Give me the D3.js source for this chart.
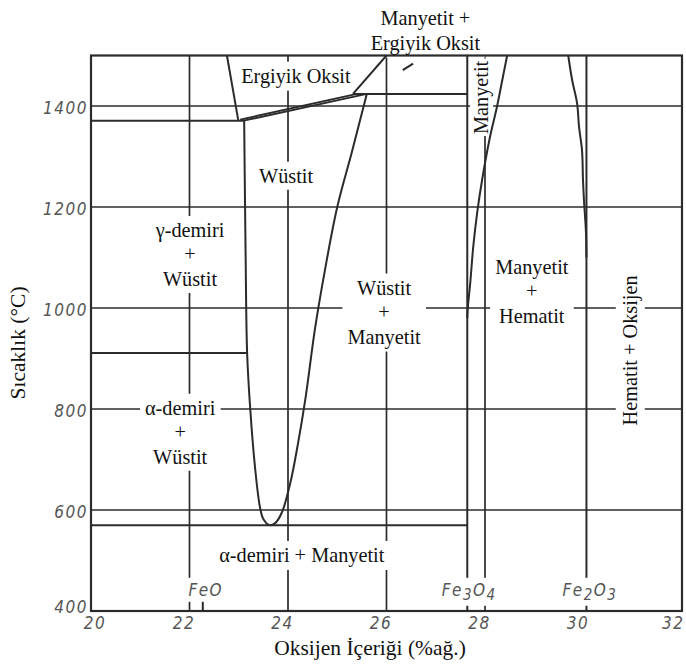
<!DOCTYPE html>
<html>
<head>
<meta charset="utf-8">
<script src="https://cdn.jsdelivr.net/npm/d3@7"></script>
<style>
  html, body { margin: 0; padding: 0; background: #fff; }
  svg { display: block; }
  .lbl { font-family: "Liberation Serif", "Times New Roman", serif; font-size: 20.3px; fill: #111; }
  .title { font-family: "Liberation Serif", "Times New Roman", serif; font-size: 21.5px; fill: #111; }
  .tick text, .cmp { font-family: "Liberation Sans Narrow", "DejaVu Sans Condensed", sans-serif;
         font-style: italic; font-size: 17px; fill: #555; letter-spacing: 1.5px; }
</style>
</head>
<body>
<svg id="chart" width="686" height="666"></svg>
<script>
// Fe–O phase diagram: oxygen content (wt%) vs temperature (°C)

const xTicks = [20, 22, 24, 26, 28, 30, 32];
const yTicks = [400, 600, 800, 1000, 1200, 1400];
const gridX = [22, 24, 26, 28];
const gridY = [600, 800, 1000, 1200, 1400];

// horizontal invariant lines: [wt% from, wt% to, °C]
const isotherms = [
  [20, 23.11, 1371],
  [25.32, 27.64, 1424],
  [20, 23.17, 911],
  [20, 27.64, 570]
];

// stoichiometric compositions drawn full height (Fe3O4, Fe2O3)
const compoundLines = [27.64, 30.06];
const feoMark = [[22.27, 400], [22.27, 426]];

// phase boundaries as [wt% O, °C]
const liquidusFe = [[22.76, 1500], [22.99, 1372]];
const wustiteLiquidus = [[23.03, 1373], [25.40, 1424]];
const wustiteSolidus = [[23.10, 1371], [25.60, 1424]];
const magnetiteLiquidus = [[25.32, 1424], [26.0, 1500]];

const wustiteFeSide = [[23.11, 1371], [23.14, 1100], [23.17, 911], [23.23, 805],
  [23.33, 685], [23.43, 606], [23.50, 582], [23.62, 570]];
const wustiteOSide = [[23.62, 570], [23.74, 574], [23.88, 596], [24.05, 655],
  [24.20, 730], [24.35, 818], [24.55, 960], [24.75, 1075], [25.00, 1200],
  [25.30, 1310], [25.60, 1424]];

const magnetiteOSide = [[28.45, 1500], [28.35, 1451], [28.24, 1397], [28.10, 1338],
  [27.94, 1253], [27.84, 1188], [27.76, 1120], [27.70, 1049], [27.65, 1000], [27.64, 980]];
const hematiteOSide = [[29.69, 1500], [29.77, 1451], [29.87, 1405], [29.91, 1358],
  [29.97, 1312], [29.99, 1253], [30.01, 1213], [30.05, 1150], [30.06, 1100]];

const calloutLeader = [[26.33, 1471], [26.54, 1484]];

// phase-field names, anchored at [wt% O, °C]
const fieldLabels = [
  { lines: ["Ergiyik Oksit"], at: [24.16, 1460] },
  { lines: ["Manyetit +", "Ergiyik Oksit"], at: [26.79, 1550] },
  { lines: ["Wüstit"], at: [23.96, 1262] },
  { lines: ["γ-demiri", "+", "Wüstit"], at: [22.01, 1106] },
  { lines: ["Wüstit", "+", "Manyetit"], at: [25.95, 992] },
  { lines: ["Manyetit", "+", "Hematit"], at: [28.95, 1033] },
  { lines: ["α-demiri", "+", "Wüstit"], at: [21.81, 754] },
  { lines: ["α-demiri + Manyetit"], at: [24.28, 511] },
  { lines: ["Manyetit"], at: [27.92, 1417], rotate: true, pad: 2 },
  { lines: ["Hematit + Oksijen"], at: [30.94, 916], rotate: true }
];

// compound formulas: [text, subscript] pieces
const compoundLabels = [
  { parts: [["Fe", false], ["O", false]], at: [22.33, 442] },
  { parts: [["Fe", false], ["3", true], ["O", false], ["4", true]], at: [27.68, 442] },
  { parts: [["Fe", false], ["2", true], ["O", false], ["3", true]], at: [30.13, 442] }
];

const svg = d3.select("#chart");
const x = d3.scaleLinear().domain([20, 32]).range([91, 682]);
const y = d3.scaleLinear().domain([400, 1500]).range([611, 55.5]);
const line = d3.line().x(d => x(d[0])).y(d => y(d[1]));
const ink = "#2b2b2b";

const gridLayer = svg.append("g");
const bgLayer = svg.append("g");
const markLayer = svg.append("g");
const labelLayer = svg.append("g");
const topBg = svg.append("g");
const topLabels = svg.append("g");

// grid
gridLayer.selectAll("line.gx").data(gridX).join("line")
  .attr("x1", d => x(d)).attr("x2", d => x(d))
  .attr("y1", y(400)).attr("y2", y(1500))
  .attr("stroke", ink).attr("stroke-width", 1.7);
gridLayer.selectAll("line.gy").data(gridY).join("line")
  .attr("x1", x(20)).attr("x2", x(32))
  .attr("y1", d => y(d)).attr("y2", d => y(d))
  .attr("stroke", ink).attr("stroke-width", 1.7);

// phase boundaries
const curves = [liquidusFe, wustiteLiquidus, wustiteSolidus, magnetiteLiquidus, calloutLeader, feoMark];
markLayer.selectAll("path.b").data(curves).join("path")
  .attr("d", line).attr("fill", "none")
  .attr("stroke", ink).attr("stroke-width", 2);

const smooth = d3.line().x(d => x(d[0])).y(d => y(d[1])).curve(d3.curveCatmullRom.alpha(0.5));
markLayer.append("path")
  .attr("d", smooth(wustiteFeSide.concat(wustiteOSide.slice(1))))
  .attr("fill", "none").attr("stroke", ink).attr("stroke-width", 2);
markLayer.selectAll("path.c").data([magnetiteOSide, hematiteOSide]).join("path")
  .attr("d", smooth).attr("fill", "none")
  .attr("stroke", ink).attr("stroke-width", 2);

markLayer.selectAll("line.iso").data(isotherms).join("line")
  .attr("x1", d => x(d[0])).attr("x2", d => x(d[1]))
  .attr("y1", d => y(d[2])).attr("y2", d => y(d[2]))
  .attr("stroke", ink).attr("stroke-width", 2);
markLayer.selectAll("line.cmp").data(compoundLines).join("line")
  .attr("x1", d => x(d)).attr("x2", d => x(d))
  .attr("y1", y(400)).attr("y2", y(1500))
  .attr("stroke", ink).attr("stroke-width", 2);

// frame
markLayer.append("rect")
  .attr("x", x(20)).attr("y", y(1500))
  .attr("width", x(32) - x(20)).attr("height", y(400) - y(1500))
  .attr("fill", "none").attr("stroke", ink).attr("stroke-width", 2.2);

// axes
const fmt = d3.format("d");
const xAxis = svg.append("g").attr("class", "tick")
  .attr("transform", `translate(0,${y(400)})`)
  .call(d3.axisBottom(x).tickValues(xTicks).tickFormat(fmt).tickSize(0).tickPadding(6));
xAxis.select(".domain").remove();
xAxis.selectAll("text").attr("dx", d => d === 32 ? "-0.55em" : (d === 20 ? "0.2em" : "-0.35em"));

const yAxis = svg.append("g").attr("class", "tick")
  .attr("transform", `translate(${x(20)},0)`)
  .call(d3.axisLeft(y).tickValues(yTicks).tickFormat(fmt).tickSize(0).tickPadding(3));
yAxis.select(".domain").remove();
yAxis.selectAll("text").attr("dy", d => d === 400 ? "0.1em" : "0.45em");

// field labels with white backing that interrupts the grid
const lh = 24.5;
fieldLabels.forEach(f => {
  const tr = `translate(${x(f.at[0])},${y(f.at[1])})` + (f.rotate ? " rotate(-90)" : "");
  const g = labelLayer.append("g").attr("transform", tr);
  f.lines.forEach((t, i) => {
    g.append("text").attr("class", "lbl")
      .attr("text-anchor", "middle")
      .attr("y", (i - (f.lines.length - 1) / 2) * lh + 7)
      .text(t);
  });
  const b = g.node().getBBox();
  const p = f.pad ?? 5;
  bgLayer.append("rect").attr("transform", tr)
    .attr("x", b.x - p).attr("y", b.y - p + 2)
    .attr("width", b.width + 2 * p).attr("height", b.height + 2 * p - 4)
    .attr("fill", "#fff");
});

// compound formulas along the bottom
compoundLabels.forEach(c => {
  const tr = `translate(${x(c.at[0])},${y(c.at[1])})`;
  const t = topLabels.append("text").attr("class", "cmp")
    .attr("transform", tr).attr("text-anchor", "middle").attr("y", 6);
  c.parts.forEach(([s, sub], i) => {
    const prev = i > 0 ? c.parts[i - 1][1] : false;
    t.append("tspan")
      .attr("dy", sub && !prev ? 4 : (!sub && prev ? -4 : 0))
      .attr("font-size", sub ? 15 : 17)
      .text(s);
  });
  const b = t.node().getBBox();
  topBg.append("rect").attr("transform", tr)
    .attr("x", b.x - 3).attr("y", b.y - 2)
    .attr("width", b.width + 6).attr("height", b.height + 4)
    .attr("fill", "#fff");
});

// axis titles
svg.append("text").attr("class", "title")
  .attr("x", 370).attr("y", 655).attr("text-anchor", "middle")
  .text("Oksijen İçeriği (%ağ.)");
svg.append("text").attr("class", "title")
  .attr("transform", `translate(25,343) rotate(-90)`)
  .attr("text-anchor", "middle")
  .text("Sıcaklık (°C)");
</script>
</body>
</html>
